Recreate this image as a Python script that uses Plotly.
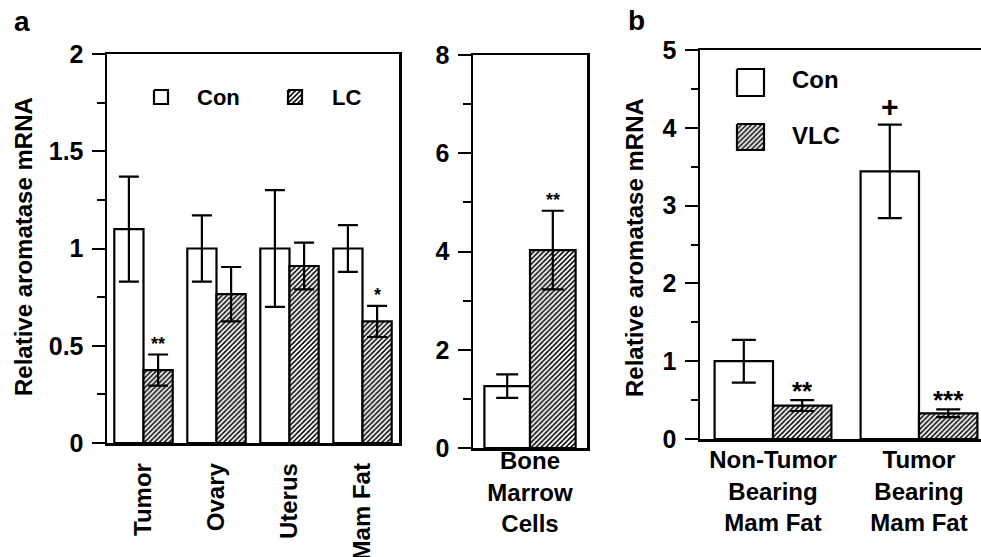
import plotly.graph_objects as go

W, H = 981, 557

# ---------------- data ----------------
tissues = ["Tumor", "Ovary", "Uterus", "Mam Fat"]
con_a = [1.10, 1.00, 1.00, 1.00]
con_a_err = [0.27, 0.17, 0.30, 0.12]
lc_a = [0.375, 0.765, 0.91, 0.625]
lc_a_err = [0.08, 0.14, 0.12, 0.08]
sig_lc_a = ["**", "", "", "*"]

bm_cat = ["Bone<br>Marrow<br>Cells"]
con_bm = [1.26]
con_bm_err = [0.24]
lc_bm = [4.03]
lc_bm_err = [0.80]
sig_lc_bm = ["**"]

fat_cat = ["Non-Tumor<br>Bearing<br>Mam Fat", "Tumor<br>Bearing<br>Mam Fat"]
con_b = [1.00, 3.44]
con_b_err = [0.275, 0.60]
vlc_b = [0.43, 0.33]
vlc_b_err = [0.07, 0.05]
sig_con_b = ["", "+"]
sig_vlc_b = ["**", "***"]

legend_a = ["Con", "LC"]
legend_b = ["Con", "VLC"]
y_title = "Relative aromatase mRNA"

# ---------------- helpers ----------------
def xd(p0, p1):
    return [p0 / W, min(p1 / W, 1.0)]

def yd(top, bottom):
    return [(H - bottom) / H, (H - top) / H]

FONT = "Liberation Sans, Arial, Helvetica, sans-serif"
BARGAP = 0.2
HALF = (1 - BARGAP) / 4  # offset of each bar center from category center

PATTERN = dict(shape="/", fgcolor="black", bgcolor="white",
               size=3.5, solidity=0.45, fillmode="replace")
white = dict(color="white", line=dict(color="black", width=2.2))
hatched = dict(color="white", line=dict(color="black", width=2.2), pattern=PATTERN)

def err(arr, w=10):
    return dict(type="data", array=arr, color="black", thickness=2.2, width=w, visible=True)

fig = go.Figure()

# panel a left
fig.add_bar(x=tissues, y=con_a, error_y=err(con_a_err), marker=white,
            xaxis="x", yaxis="y", showlegend=False, name=legend_a[0])
fig.add_bar(x=tissues, y=lc_a, error_y=err(lc_a_err), marker=hatched,
            xaxis="x", yaxis="y", showlegend=False, name=legend_a[1])
# panel a right
fig.add_bar(x=bm_cat, y=con_bm, error_y=err(con_bm_err, 11), marker=white,
            xaxis="x2", yaxis="y2", showlegend=False, name=legend_a[0])
fig.add_bar(x=bm_cat, y=lc_bm, error_y=err(lc_bm_err, 11), marker=hatched,
            xaxis="x2", yaxis="y2", showlegend=False, name=legend_a[1])
# panel b
fig.add_bar(x=fat_cat, y=con_b, error_y=err(con_b_err, 12), marker=white,
            xaxis="x3", yaxis="y3", showlegend=False, name=legend_b[0])
fig.add_bar(x=fat_cat, y=vlc_b, error_y=err(vlc_b_err, 12), marker=hatched,
            xaxis="x3", yaxis="y3", showlegend=False, name=legend_b[1])

# legend swatches on a pixel overlay axis
def swatch(x0, x1, y0, y1, patterned):
    kw = dict(x=[x0, x1, x1, x0, x0], y=[y0, y0, y1, y1, y0], mode="lines",
              fill="toself", fillcolor="white", line=dict(color="black", width=2.2),
              xaxis="x4", yaxis="y4", showlegend=False, hoverinfo="skip")
    if patterned:
        kw["fillpattern"] = PATTERN
    fig.add_scatter(**kw)

swatch(154, 168, 90, 104, False)
swatch(288, 302, 90, 104, True)
swatch(737, 764, 69, 96, False)
swatch(737, 764, 124, 150, True)

tick_common = dict(ticks="outside", tickwidth=2, ticklen=13, tickcolor="black",
                   showline=True, linewidth=2.5, linecolor="black",
                   showgrid=False, zeroline=False, fixedrange=True,
                   ticklabelstandoff=3, tickfont=dict(size=25))

fig.update_layout(
    width=W, height=H,
    margin=dict(l=0, r=0, t=0, b=0),
    paper_bgcolor="white", plot_bgcolor="rgba(0,0,0,0)",
    font=dict(family=FONT, size=22, color="black", weight="bold"),
    barmode="group", bargap=BARGAP, bargroupgap=0,
    xaxis=dict(domain=xd(107, 399), range=[-0.5, 3.5], anchor="y",
               showline=True, linewidth=2.5, linecolor="black", mirror=True,
               ticks="", tickangle=-90, showgrid=False, zeroline=False,
               fixedrange=True, automargin=False, ticklabelstandoff=8,
               tickfont=dict(size=24)),
    yaxis=dict(domain=yd(54, 443), range=[0, 2], dtick=0.5, anchor="x",
               mirror=True, automargin=False,
               minor=dict(ticks="outside", dtick=0.25, ticklen=8, tickwidth=2,
                          tickcolor="black", showgrid=False),
               **tick_common),
    xaxis2=dict(domain=xd(473, 587), range=[-0.5, 0.5], anchor="y2",
                showline=True, linewidth=2.5, linecolor="black", mirror=True,
                ticks="", showgrid=False, zeroline=False, fixedrange=True,
                automargin=False, ticklabelstandoff=-10, tickfont=dict(size=24)),
    yaxis2=dict(domain=yd(55, 448), range=[0, 8], dtick=2, anchor="x2",
                mirror=True, automargin=False,
                minor=dict(ticks="outside", dtick=1, ticklen=8, tickwidth=2,
                           tickcolor="black", showgrid=False),
                **tick_common),
    xaxis3=dict(domain=xd(700, 981), range=[-0.5, -0.5 + 281 / 146], anchor="y3",
                showline=True, linewidth=2.5, linecolor="black", mirror=True,
                ticks="", showgrid=False, zeroline=False, fixedrange=True,
                automargin=False, ticklabelstandoff=-2, tickfont=dict(size=24)),
    yaxis3=dict(domain=yd(50, 439), range=[0, 5], dtick=1, anchor="x3",
                mirror=False, automargin=False,
                minor=dict(ticks="outside", dtick=0.5, ticklen=7, tickwidth=2,
                           tickcolor="black", showgrid=False),
                **tick_common),
    xaxis4=dict(domain=[0, 1], range=[0, W], visible=False, fixedrange=True, anchor="y4"),
    yaxis4=dict(domain=[0, 1], range=[H, 0], visible=False, fixedrange=True, anchor="x4"),
)

ann = []
# significance marks
for i, s in enumerate(sig_lc_a):
    if s:
        ann.append(dict(x=i + HALF, y=lc_a[i] + lc_a_err[i], xref="x", yref="y",
                        text=s, showarrow=False, yanchor="bottom", yshift=-1,
                        font=dict(size=18)))
for i, s in enumerate(sig_lc_bm):
    if s:
        ann.append(dict(x=i + HALF, y=lc_bm[i] + lc_bm_err[i], xref="x2", yref="y2",
                        text=s, showarrow=False, yanchor="bottom", yshift=-1,
                        font=dict(size=18)))
for i, s in enumerate(sig_vlc_b):
    if s:
        ann.append(dict(x=i + HALF, y=vlc_b[i] + vlc_b_err[i], xref="x3", yref="y3",
                        text=s, showarrow=False, yanchor="bottom", yshift=-8,
                        font=dict(size=26)))
for i, s in enumerate(sig_con_b):
    if s:
        ann.append(dict(x=i - HALF, y=con_b[i] + con_b_err[i], xref="x3", yref="y3",
                        text=s, showarrow=False, yanchor="bottom", yshift=0,
                        font=dict(size=30)))

# legend labels
ann.append(dict(x=195 / W, y=1 - 97 / H, xref="paper", yref="paper", text=legend_a[0],
                showarrow=False, xanchor="left", yanchor="middle", font=dict(size=22)))
ann.append(dict(x=330 / W, y=1 - 97 / H, xref="paper", yref="paper", text=legend_a[1],
                showarrow=False, xanchor="left", yanchor="middle", font=dict(size=22)))
ann.append(dict(x=790 / W, y=1 - 80 / H, xref="paper", yref="paper", text=legend_b[0],
                showarrow=False, xanchor="left", yanchor="middle", font=dict(size=24)))
ann.append(dict(x=790 / W, y=1 - 135 / H, xref="paper", yref="paper", text=legend_b[1],
                showarrow=False, xanchor="left", yanchor="middle", font=dict(size=24)))

# y titles
ann.append(dict(x=24 / W, y=1 - 247 / H, xref="paper", yref="paper", text=y_title,
                textangle=-90, showarrow=False, xanchor="center", yanchor="middle",
                font=dict(size=24)))
ann.append(dict(x=635 / W, y=1 - 248 / H, xref="paper", yref="paper", text=y_title,
                textangle=-90, showarrow=False, xanchor="center", yanchor="middle",
                font=dict(size=24)))
# panel letters
ann.append(dict(x=22 / W, y=1 - 22 / H, xref="paper", yref="paper", text="a",
                showarrow=False, xanchor="center", yanchor="middle", font=dict(size=28)))
ann.append(dict(x=636 / W, y=1 - 20 / H, xref="paper", yref="paper", text="b",
                showarrow=False, xanchor="center", yanchor="middle", font=dict(size=28)))

fig.update_layout(annotations=ann)
fig.write_html("out.html",
               config={"displayModeBar": False, "staticPlot": True},
               post_script="document.body.style.margin='0';document.body.style.overflow='hidden';")
